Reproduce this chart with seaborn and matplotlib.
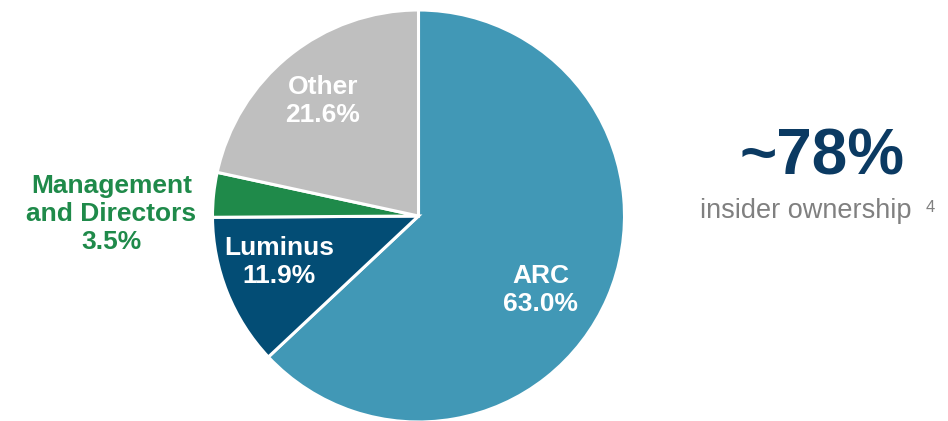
import matplotlib
matplotlib.use("Agg")
import matplotlib.pyplot as plt
import seaborn as sns

# ownership split, clockwise from 12 o'clock
holders = ["ARC", "Luminus", "Management\nand Directors", "Other"]
shares = [63.0, 11.9, 3.5, 21.6]
colours = ["#4198B6", "#034D75", "#1F8A4A", "#BFBFBF"]
text_colours = ["white", "white", "#1F8A4A", "white"]
# label anchor points in pie units (radius 1)
label_pos = [(0.593, -0.36), (-0.675, -0.225), (-1.49, 0.01), (-0.465, 0.56)]

insider_pct = "~78%"
insider_text = "insider ownership"

sns.set_style("white")
plt.rcParams["font.family"] = ["Liberation Sans", "DejaVu Sans"]

fig = plt.figure(figsize=(9.48, 4.21), dpi=100)
# square axes so that pie center sits at (418.5, 216) px with 206 px radius
ax = fig.add_axes([(418.5 - 206) / 948, (205 - 206) / 421, 412 / 948, 412 / 421])
ax.pie(shares, colors=colours, startangle=90, counterclock=False,
       wedgeprops=dict(edgecolor="white", linewidth=2.2))
ax.set_xlim(-1, 1)
ax.set_ylim(-1, 1)
ax.set_aspect("auto")
ax.axis("off")

for name, val, (x, y), c in zip(holders, shares, label_pos, text_colours):
    ax.text(x, y, f"{name}\n{val:.1f}%", ha="center", va="center", color=c,
            fontsize=19, fontweight="bold", linespacing=1.22, clip_on=False)

fig.text(822 / 948, 1 - 158 / 421, insider_pct, ha="center", va="center",
         color="#0B3A62", fontsize=46, fontweight="bold")
fig.text(806 / 948, 1 - 211 / 421, insider_text, ha="center", va="center",
         color="#808080", fontsize=19.5)
fig.text(930 / 948, 1 - 207 / 421, "4", ha="center", va="center",
         color="#808080", fontsize=12)

fig.savefig("out.png", dpi=100)
